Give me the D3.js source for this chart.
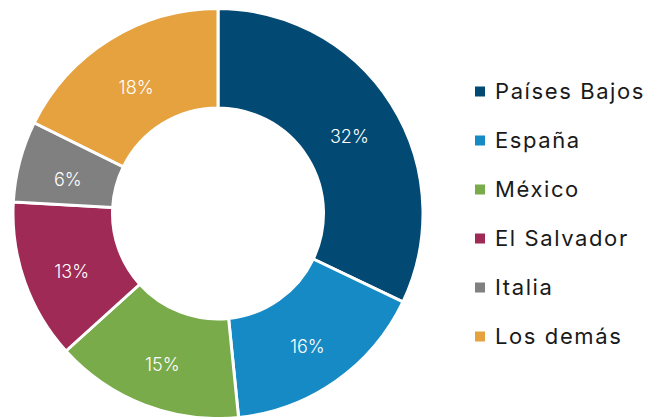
<!DOCTYPE html>
<html>
<head>
<meta charset="utf-8">
<script src="https://cdn.jsdelivr.net/npm/d3@7"></script>
<style>
    body { margin: 0; background: #fff; }
    svg { display: block; font-family: "Inter", "Noto Sans", sans-serif; }
</style>
</head>
<body>
<svg id="chart" width="658" height="417"></svg>
<script>
    // Chart data
    var countries = ["Países Bajos", "España", "México", "El Salvador", "Italia", "Los demás"];
    var shares = [32.1, 16.3, 14.9, 12.6, 6.4, 17.7];
    var colors = ["#024a73", "#168ac5", "#7aab4a", "#9e2a55", "#808080", "#e5a23f"];

    var cx = 218, cy = 213.5;
    var outerR = 205, innerR = 105.5;
    var labelShift = 6; // labels sit a bit below the slice centroid

    var svg = d3.select("#chart");

    var color = d3.scaleOrdinal()
        .domain(countries)
        .range(colors);

    var pie = d3.pie()
        .sort(null)
        .value(function (d) { return d.value; });

    var arc = d3.arc()
        .innerRadius(innerR)
        .outerRadius(outerR);

    var data = countries.map(function (c, i) {
        return { name: c, value: shares[i] };
    });

    var g = svg.append("g")
        .attr("transform", "translate(" + cx + "," + cy + ")");

    var slices = g.selectAll("g.slice")
        .data(pie(data))
        .enter().append("g")
        .attr("class", "slice");

    slices.append("path")
        .attr("d", arc)
        .attr("fill", function (d) { return color(d.data.name); })
        .attr("stroke", "#fff")
        .attr("stroke-width", 3);

    slices.append("text")
        .attr("transform", function (d) {
            var c = arc.centroid(d);
            return "translate(" + c[0] + "," + (c[1] + labelShift) + ")";
        })
        .attr("text-anchor", "middle")
        .attr("dy", "0.36em")
        .attr("fill", "#fff")
        .attr("font-size", 18)
        .attr("font-weight", 300)
        .text(function (d) { return Math.round(d.data.value) + "%"; });

    // Legend
    var legendY = d3.scaleBand()
        .domain(countries)
        .range([67, 361]);

    var legend = svg.append("g")
        .attr("transform", "translate(475,0)");

    var items = legend.selectAll("g.item")
        .data(countries)
        .enter().append("g")
        .attr("class", "item")
        .attr("transform", function (d) {
            return "translate(0," + (legendY(d) + legendY.bandwidth() / 2) + ")";
        });

    items.append("rect")
        .attr("x", 0)
        .attr("y", -5)
        .attr("width", 10)
        .attr("height", 10)
        .attr("fill", function (d) { return color(d); });

    items.append("text")
        .attr("x", 20)
        .attr("dy", "0.36em")
        .attr("fill", "#1a1a1a")
        .attr("font-size", 22)
        .attr("letter-spacing", 1.6)
        .text(function (d) { return d; });
</script>
</body>
</html>
